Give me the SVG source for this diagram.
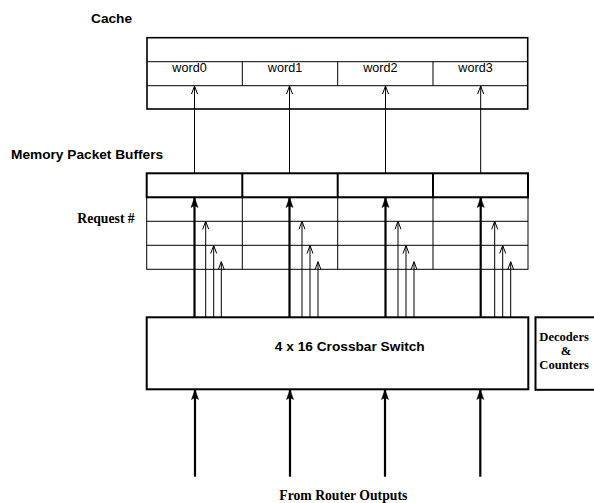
<svg xmlns="http://www.w3.org/2000/svg" width="594" height="503" viewBox="0 0 594 503">
<style>
.sans{font-family:"Liberation Sans",Arial,sans-serif;font-weight:bold;font-size:13.7px;fill:#000}
.word{font-family:"Liberation Sans",Arial,sans-serif;font-size:12.6px;fill:#000}
.serif{font-family:"Liberation Serif","Times New Roman",serif;font-weight:bold;font-size:13.7px;fill:#000}
.dec{font-family:"Liberation Serif","Times New Roman",serif;font-weight:bold;font-size:12.6px;fill:#000}
.thin{stroke:#000;stroke-width:1;fill:none}
.thick{stroke:#000;stroke-width:2;fill:none}
.wire{stroke:#000;stroke-width:1;fill:none;marker-end:url(#open)}
.bus{stroke:#000;stroke-width:2.2;fill:none;marker-end:url(#solid)}
</style>
<defs>
<marker id="open" markerUnits="userSpaceOnUse" markerWidth="10" markerHeight="12" viewBox="-5 -1 10 12" refX="0" refY="0" orient="0" overflow="visible">
<path d="M-3,8 L0,0 L3,8" fill="none" stroke="#000" stroke-width="1"/>
</marker>
<marker id="solid" markerUnits="userSpaceOnUse" markerWidth="10" markerHeight="12" viewBox="-5 -1 10 12" refX="0" refY="0" orient="0" overflow="visible">
<path d="M-3.5,10 L0,0 L3.5,10 L0,8 Z" fill="#000" stroke="#000" stroke-width="0.5"/>
</marker>
</defs>
<rect width="594" height="503" fill="#fff"/>

<g id="labels">
<text class="sans" x="91" y="22.7">Cache</text>
<text class="sans" x="11" y="159">Memory Packet Buffers</text>
<text class="serif" x="77.3" y="223.3">Request #</text>
<text class="serif" x="343.3" y="500" text-anchor="middle">From Router Outputs</text>
</g>

<g id="cache">
<line class="thin" x1="147" y1="61.7" x2="527.7" y2="61.7"/>
<line class="thin" x1="147" y1="85.7" x2="527.7" y2="85.7"/>
<line class="thin" x1="242.3" y1="61.7" x2="242.3" y2="85.7"/>
<line class="thin" x1="337.7" y1="61.7" x2="337.7" y2="85.7"/>
<line class="thin" x1="433" y1="61.7" x2="433" y2="85.7"/>
<rect x="147" y="37.7" width="380.7" height="71.3" fill="none" stroke="#000" stroke-width="1.6"/>
<text class="word" x="189.5" y="72" text-anchor="middle">word0</text>
<text class="word" x="285" y="72" text-anchor="middle">word1</text>
<text class="word" x="380.3" y="72" text-anchor="middle">word2</text>
<text class="word" x="475.5" y="72" text-anchor="middle">word3</text>
</g>

<g id="buffers">
<rect class="thin" x="146.7" y="197.3" width="381.3" height="72"/>
<line class="thin" x1="146.7" y1="221.3" x2="528" y2="221.3"/>
<line class="thin" x1="146.7" y1="245.3" x2="528" y2="245.3"/>
<line class="thin" x1="242.3" y1="197.3" x2="242.3" y2="269.3"/>
<line class="thin" x1="337.7" y1="197.3" x2="337.7" y2="269.3"/>
<line class="thin" x1="433" y1="197.3" x2="433" y2="269.3"/>
<rect class="thick" x="146.7" y="173.3" width="381.3" height="24"/>
<line class="thick" x1="242.3" y1="173.3" x2="242.3" y2="197.3"/>
<line class="thick" x1="337.7" y1="173.3" x2="337.7" y2="197.3"/>
<line class="thick" x1="433" y1="173.3" x2="433" y2="197.3"/>
</g>

<g id="crossbar">
<rect x="146.7" y="317.3" width="381.6" height="72" fill="none" stroke="#000" stroke-width="2"/>
<text class="sans" x="349.8" y="351" text-anchor="middle">4 x 16 Crossbar Switch</text>
</g>

<g id="decoders">
<rect x="535.5" y="317.3" width="70" height="72.5" fill="none" stroke="#000" stroke-width="2"/>
<text class="dec" x="539.3" y="340.7">Decoders</text>
<text class="dec" x="566" y="354.7" text-anchor="middle">&amp;</text>
<text class="dec" x="539.3" y="368.7">Counters</text>
</g>

<g id="connectors">
<line class="wire" x1="194.5" y1="173.3" x2="194.5" y2="86"/>
<line class="wire" x1="289.5" y1="173.3" x2="289.5" y2="86"/>
<line class="wire" x1="385.5" y1="173.3" x2="385.5" y2="86"/>
<line class="wire" x1="480.7" y1="173.3" x2="480.7" y2="86"/>

<line class="bus" x1="194.5" y1="317.3" x2="194.5" y2="197.5"/>
<line class="bus" x1="289.5" y1="317.3" x2="289.5" y2="197.5"/>
<line class="bus" x1="385.5" y1="317.3" x2="385.5" y2="197.5"/>
<line class="bus" x1="480.7" y1="317.3" x2="480.7" y2="197.5"/>

<line class="wire" x1="205.7" y1="317.3" x2="205.7" y2="221.3"/>
<line class="wire" x1="213.7" y1="317.3" x2="213.7" y2="245.5"/>
<line class="wire" x1="221.3" y1="317.3" x2="221.3" y2="261.7"/>
<line class="wire" x1="302" y1="317.3" x2="302" y2="221.3"/>
<line class="wire" x1="310" y1="317.3" x2="310" y2="245.5"/>
<line class="wire" x1="318" y1="317.3" x2="318" y2="261.7"/>
<line class="wire" x1="398" y1="317.3" x2="398" y2="221.3"/>
<line class="wire" x1="406" y1="317.3" x2="406" y2="245.5"/>
<line class="wire" x1="414" y1="317.3" x2="414" y2="261.7"/>
<line class="wire" x1="494.7" y1="317.3" x2="494.7" y2="221.3"/>
<line class="wire" x1="502.7" y1="317.3" x2="502.7" y2="245.5"/>
<line class="wire" x1="510.7" y1="317.3" x2="510.7" y2="261.7"/>

<line class="bus" x1="195" y1="476.7" x2="195" y2="389.5"/>
<line class="bus" x1="290" y1="476.7" x2="290" y2="389.5"/>
<line class="bus" x1="385" y1="476.7" x2="385" y2="389.5"/>
<line class="bus" x1="480.3" y1="476.7" x2="480.3" y2="389.5"/>
</g>
</svg>
